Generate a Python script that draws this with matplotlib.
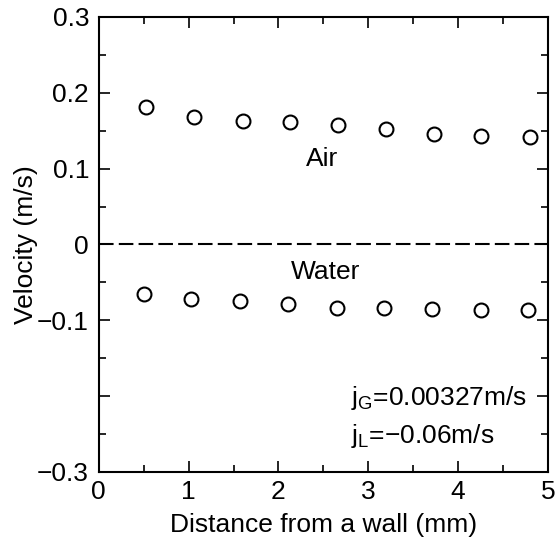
import numpy as np
import matplotlib
matplotlib.use("Agg")
import matplotlib.pyplot as plt
from matplotlib.ticker import MultipleLocator

plt.rcParams['font.family'] = ['Liberation Sans', 'DejaVu Sans']

# distance from wall (mm)
x_air = [0.53, 1.06, 1.60, 2.13, 2.66, 3.20, 3.73, 4.26, 4.80]
v_air = [0.181, 0.168, 0.163, 0.162, 0.157, 0.152, 0.146, 0.143, 0.142]
x_water = [0.50, 1.03, 1.57, 2.11, 2.65, 3.18, 3.71, 4.25, 4.78]
v_water = [-0.065, -0.072, -0.074, -0.079, -0.084, -0.084, -0.085, -0.087, -0.087]

yticks = [-0.3, -0.2, -0.1, 0, 0.1, 0.2, 0.3]
ylabels = ['\u22120.3', '', '\u22120.1', '0', '0.1', '0.2', '0.3']

fs = 19

fig = plt.figure(figsize=(5.58, 5.45), dpi=100)
ax = fig.add_axes([0.177, 0.134, 0.805, 0.835])

ax.plot(x_air, v_air, 'o', mfc='white', mec='black', ms=10, mew=1.5, ls='none')
ax.plot(x_water, v_water, 'o', mfc='white', mec='black', ms=10, mew=1.5, ls='none')
ax.axhline(0, color='black', ls=(0, (7, 2.5)), lw=1.5)

ax.text(2.49, 0.113, 'Air', fontsize=fs, ha='center', va='center')
ax.text(2.53, -0.037, 'Water', fontsize=fs, ha='center', va='center')
ax.text(2.81, -0.203, r'j$_\mathregular{G}$=0.00327m/s', fontsize=fs, ha='left', va='center')
ax.text(2.81, -0.252, 'j$_\\mathregular{L}$=\u22120.06m/s', fontsize=fs, ha='left', va='center')

ax.set_xlim(0, 5)
ax.set_ylim(-0.3, 0.3)
ax.set_xticks(range(6))
ax.xaxis.set_minor_locator(MultipleLocator(0.5))
ax.set_yticks(yticks)
ax.set_yticklabels(ylabels)
ax.yaxis.set_minor_locator(MultipleLocator(0.05))
ax.tick_params(which='both', direction='in', top=True, right=True, width=1.2, labelsize=fs)
ax.tick_params(axis='x', pad=6)
ax.tick_params(axis='y', pad=7)
ax.tick_params(which='major', length=8)
ax.tick_params(which='minor', length=5)
for s in ax.spines.values():
    s.set_linewidth(1.5)

ax.set_xlabel('Distance from a wall (mm)', fontsize=fs, labelpad=6)
ax.set_ylabel('Velocity (m/s)', fontsize=fs)
ax.yaxis.set_label_coords(-0.135, 0.5)

fig.savefig('out.png', dpi=100)
